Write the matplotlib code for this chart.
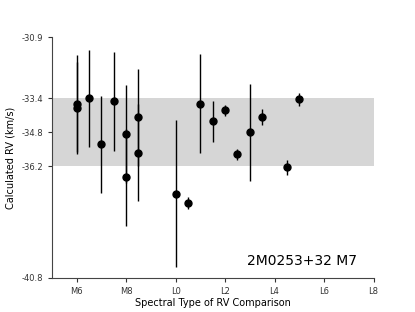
import matplotlib
matplotlib.use("Agg")
import matplotlib.pyplot as plt

# Spectral type index: M6=6 ... M9=9, L0=10 ... L8=18
spt = [6, 6, 6.5, 7, 7.5, 8, 8, 8.5, 8.5, 10, 10.5, 11, 11.5, 12, 12.5, 13, 13.5, 14.5, 15]
rv = [-33.63, -33.80, -33.40, -35.31, -33.53, -34.87, -36.66, -34.18, -35.65,
      -37.35, -37.72, -33.63, -34.36, -33.90, -35.72, -34.81, -34.18, -36.25, -33.45]
rv_err = [2.0, 1.9, 2.0, 2.0, 2.03, 2.03, 2.0, 2.0, 2.0,
          3.03, 0.25, 2.03, 0.86, 0.23, 0.24, 2.0, 0.32, 0.3, 0.28]

band_lo, band_hi = -36.2, -33.4
yticks = [-30.9, -33.4, -34.8, -36.2, -40.8]
xticks = [6, 8, 10, 12, 14, 16, 18]
xticklabels = ["M6", "M8", "L0", "L2", "L4", "L6", "L8"]
label = "2M0253+32 M7"

fig, ax = plt.subplots(figsize=(4.15, 3.12), dpi=100)
ax.axhspan(band_lo, band_hi, color="#d6d6d6", lw=0, zorder=0)
ax.errorbar(spt, rv, yerr=rv_err, fmt="o", color="k", ms=5, elinewidth=1, capsize=0)

ax.set_xlim(5, 18)
ax.set_ylim(-40.8, -30.9)
ax.set_yticks(yticks)
ax.set_yticklabels(["%.1f" % t for t in yticks])
ax.set_xticks(xticks)
ax.set_xticklabels(xticklabels)
ax.tick_params(labelsize=6, length=3, colors="#333333")
ax.spines["top"].set_visible(False)
ax.spines["right"].set_visible(False)
for s in ("left", "bottom"):
    ax.spines[s].set_color("#444444")
ax.set_xlabel("Spectral Type of RV Comparison", fontsize=7, labelpad=2)
ax.set_ylabel("Calculated RV (km/s)", fontsize=7, labelpad=4)
ax.text(0.95, 0.07, label, transform=ax.transAxes, ha="right", va="center", fontsize=10)

fig.savefig("out.png", dpi=100)
